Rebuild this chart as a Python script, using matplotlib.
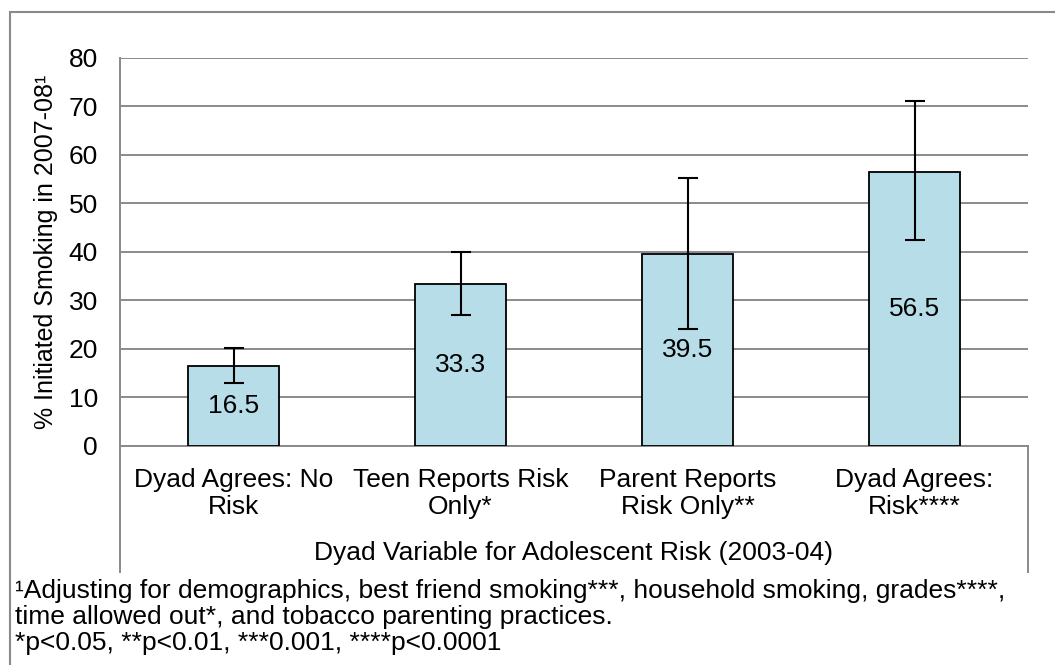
import numpy as np
import matplotlib.pyplot as plt
from matplotlib.lines import Line2D
from matplotlib.patches import Rectangle

plt.rcParams['font.family'] = ['Liberation Sans', 'DejaVu Sans']

# percent who initiated smoking, with 95% CI bounds
categories = ["Dyad Agrees: No\nRisk", "Teen Reports Risk\nOnly*",
              "Parent Reports\nRisk Only**", "Dyad Agrees:\nRisk****"]
pct = [16.5, 33.3, 39.5, 56.5]
ci_low = [12.9, 26.9, 24.1, 42.3]
ci_high = [20.2, 39.9, 55.1, 71.1]

footnote = ["\u00b9Adjusting for demographics, best friend smoking***, household smoking, grades****,",
            "time allowed out*, and tobacco parenting practices.",
            "*p<0.05, **p<0.01, ***0.001, ****p<0.0001"]

FS = 19
W, H = 1055, 665
fig = plt.figure(figsize=(W / 100, H / 100), dpi=100)
ax = fig.add_axes([120 / W, 1 - 445.7 / H, (1028 - 120) / W, (445.7 - 57.5) / H])

grey = '#8a8a8a'
x = np.arange(len(pct))
yerr = [np.array(pct) - np.array(ci_low), np.array(ci_high) - np.array(pct)]

ax.bar(x, pct, width=0.4, color='#b7dde8', edgecolor='black', linewidth=1.3, zorder=3)
ax.errorbar(x, pct, yerr=yerr, fmt='none', ecolor='black', elinewidth=1.5,
            capsize=7, capthick=1.5, zorder=4)

for xi, v in zip(x, pct):
    ax.text(xi, v / 2, f"{v:.1f}", ha='center', va='center', fontsize=FS, zorder=5)

ax.set_xlim(-0.5, 3.5)
ax.set_ylim(0, 80)
ax.set_yticks(range(0, 81, 10))
ax.set_xticks(x)
ax.set_xticklabels(categories, fontsize=FS, multialignment='center', linespacing=1.15)
ax.tick_params(axis='y', length=0, pad=16, labelsize=FS)
ax.tick_params(axis='x', length=0, pad=16)
ax.yaxis.grid(True, color=grey, linewidth=1.4, zorder=0)
ax.set_axisbelow(True)

for s in ['top', 'right']:
    ax.spines[s].set_visible(False)
for s in ['left', 'bottom']:
    ax.spines[s].set_color(grey)
    ax.spines[s].set_linewidth(1.4)

ax.set_ylabel("% Initiated Smoking in 2007-08\u00b9", fontsize=18, va='center')
ax.yaxis.set_label_coords(-74 / 908, 0.5)

# category axis bracket lines below the plot
y_bot = (445.7 - 572) / (445.7 - 57.5)
for xa in (0, 1):
    ax.add_line(Line2D([xa, xa], [0, y_bot], transform=ax.transAxes,
                       color=grey, linewidth=1.4, clip_on=False))
fig.text(574 / W, 1 - 553 / H, "Dyad Variable for Adolescent Risk (2003-04)",
         ha='center', va='center', fontsize=FS)

# chart frame
fig.patches.append(Rectangle((10 / W, -0.1), 1.2, 1 - 12 / H + 0.1,
                             transform=fig.transFigure, fill=False,
                             edgecolor=grey, linewidth=1.5))

for i, line in enumerate(footnote):
    fig.text(15 / W, 1 - (598 + 26 * i) / H, line, ha='left', va='baseline', fontsize=FS)

fig.savefig('out.png', dpi=100)
